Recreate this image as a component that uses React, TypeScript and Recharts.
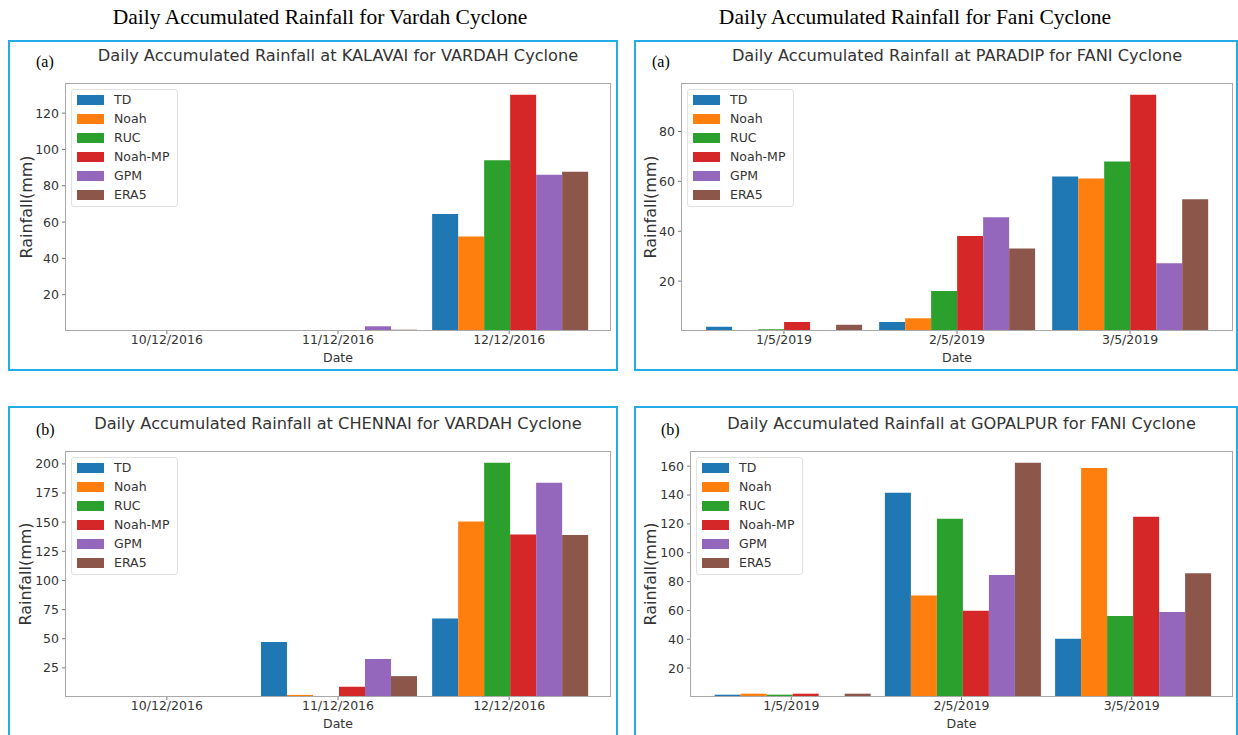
import React from 'react';
import { BarChart, Bar, XAxis, YAxis } from 'recharts';

const seriesNames = ['TD', 'Noah', 'RUC', 'Noah-MP', 'GPM', 'ERA5'];
const seriesColors = ['#1f77b4', '#ff7f0e', '#2ca02c', '#d62728', '#9467bd', '#8c564b'];

const vardahDates = ['10/12/2016', '11/12/2016', '12/12/2016'];
const faniDates = ['1/5/2019', '2/5/2019', '3/5/2019'];

// rows follow seriesNames, columns follow the dates
const kalavaiRain = [
  [0, 0, 64.4],
  [0, 0, 52.1],
  [0, 0, 94.1],
  [0, 0, 130.1],
  [0, 2.6, 86],
  [0, 0.7, 87.7],
];
const paradipRain = [
  [1.7, 3.6, 61.9],
  [0.4, 5.1, 61.1],
  [0.7, 16, 68],
  [3.6, 38.1, 94.7],
  [0.4, 45.6, 27.2],
  [2.5, 33.1, 52.8],
];
const chennaiRain = [
  [0, 47.2, 67.3],
  [0, 1.8, 150.6],
  [0, 0, 201],
  [0, 8.8, 139.5],
  [0, 32.7, 183.8],
  [0, 17.9, 139],
];
const gopalpurRain = [
  [1.6, 141.6, 40.3],
  [2.3, 70.3, 158.8],
  [1.6, 123.5, 56.1],
  [2.3, 59.8, 124.9],
  [0, 84.5, 58.9],
  [2.3, 162.4, 85.7],
];

const kalavaiTicks = [20, 40, 60, 80, 100, 120];
const paradipTicks = [20, 40, 60, 80];
const chennaiTicks = [25, 50, 75, 100, 125, 150, 175, 200];
const gopalpurTicks = [20, 40, 60, 80, 100, 120, 140, 160];

const BORDER = '#22ade6';
const TEXT = '#333';
const MPL_FONT = '"DejaVu Sans", sans-serif';
const SERIF = '"Liberation Serif", "Times New Roman", serif';

const toRows = (dates: string[], values: number[][]) =>
  dates.map((date, i) => {
    const row: Record<string, any> = { date };
    seriesNames.forEach((s, j) => (row[s] = values[j][i]));
    return row;
  });

type Panel = {
  tag: string;
  title: string;
  dates: string[];
  values: number[][];
  ticks: number[];
  box: { left: number; top: number; width: number; height: number };
  plot: { left: number; top: number; right: number; bottom: number };
  labelX: number;
};

const panels: Panel[] = [
  {
    tag: '(a)', title: 'Daily Accumulated Rainfall at KALAVAI for VARDAH Cyclone',
    dates: vardahDates, values: kalavaiRain, ticks: kalavaiTicks,
    box: { left: 8, top: 40, width: 610, height: 331 },
    plot: { left: 65, top: 83, right: 611, bottom: 331 }, labelX: 26,
  },
  {
    tag: '(a)', title: 'Daily Accumulated Rainfall at PARADIP for FANI Cyclone',
    dates: faniDates, values: paradipRain, ticks: paradipTicks,
    box: { left: 634, top: 40, width: 604, height: 331 },
    plot: { left: 681, top: 83, right: 1233, bottom: 331 }, labelX: 650,
  },
  {
    tag: '(b)', title: 'Daily Accumulated Rainfall at CHENNAI for VARDAH Cyclone',
    dates: vardahDates, values: chennaiRain, ticks: chennaiTicks,
    box: { left: 8, top: 406, width: 610, height: 340 },
    plot: { left: 65, top: 451, right: 611, bottom: 697 }, labelX: 25,
  },
  {
    tag: '(b)', title: 'Daily Accumulated Rainfall at GOPALPUR for FANI Cyclone',
    dates: faniDates, values: gopalpurRain, ticks: gopalpurTicks,
    box: { left: 634, top: 406, width: 604, height: 340 },
    plot: { left: 690, top: 451, right: 1233, bottom: 697 }, labelX: 650,
  },
];

const RainPanel = ({ p }: { p: Panel }) => {
  const { box, plot } = p;
  const plotW = plot.right - plot.left;
  const plotH = plot.bottom - plot.top;
  const step = plotW / 3.19;
  const pad = step * 0.095;
  const yMax = Math.max(...p.values.flat()) * 1.05;
  const svgLeft = box.left + 2;
  const svgTop = plot.top - 8;
  const xAxisH = 42;
  const width = plot.right + 6 - svgLeft;
  const height = plot.bottom + xAxisH - svgTop;
  const tickStyle = { fill: TEXT, fontSize: 12.5, fontFamily: MPL_FONT };

  return (
    <>
      <div style={{
        position: 'absolute', left: box.left, top: box.top, width: box.width, height: box.height,
        border: `2px solid ${BORDER}`, boxSizing: 'border-box',
      }} />
      <div style={{
        position: 'absolute', left: plot.left - 29, top: plot.top - 30, fontFamily: SERIF,
        fontSize: 16, color: '#000', lineHeight: '18px',
      }}>{p.tag}</div>
      <div style={{
        position: 'absolute', left: plot.left, width: plotW, top: plot.top - 36, textAlign: 'center',
        fontFamily: MPL_FONT, fontSize: 16.2, color: TEXT, lineHeight: '18px', whiteSpace: 'nowrap',
      }}>{p.title}</div>
      <div style={{ position: 'absolute', left: svgLeft, top: svgTop }}>
        <BarChart
          width={width}
          height={height}
          data={toRows(p.dates, p.values)}
          margin={{ top: 8, right: 6, bottom: 0, left: 0 }}
          barCategoryGap="5%"
          barGap={0}
        >
          <XAxis
            dataKey="date"
            height={xAxisH}
            padding={{ left: pad, right: pad }}
            axisLine={false}
            tickLine={{ stroke: '#777' }}
            tickSize={3}
            tickMargin={1}
            tick={tickStyle}
            interval={0}
            label={{ value: 'Date', position: 'insideBottom', offset: 11, fill: TEXT, fontSize: 12.5, fontFamily: MPL_FONT }}
          />
          <YAxis
            type="number"
            domain={[0, yMax]}
            ticks={p.ticks}
            width={plot.left - svgLeft}
            axisLine={false}
            tickLine={{ stroke: '#777' }}
            tickSize={3}
            tickMargin={3}
            tick={tickStyle}
            label={{
              value: 'Rainfall(mm)', angle: -90, position: 'insideLeft', offset: p.labelX - svgLeft,
              fill: TEXT, fontSize: 16, fontFamily: MPL_FONT, style: { textAnchor: 'middle' },
            }}
          />
          {seriesNames.map((s, j) => (
            <Bar key={s} dataKey={s} fill={seriesColors[j]} isAnimationActive={false} />
          ))}
        </BarChart>
        <div style={{
          position: 'absolute', left: plot.left - svgLeft + 6, top: 14, padding: '0 8px 2px 5px',
          border: '1px solid #e2e2e2', borderRadius: 3, background: 'rgba(255,255,255,0.85)',
          fontFamily: MPL_FONT, fontSize: 12.5, color: TEXT,
        }}>
          {seriesNames.map((s, j) => (
            <div key={s} style={{ display: 'flex', alignItems: 'center', height: 19 }}>
              <div style={{ width: 27, height: 10, background: seriesColors[j], marginRight: 10 }} />
              <span>{s}</span>
            </div>
          ))}
        </div>
        <div style={{
          position: 'absolute', left: plot.left - svgLeft, top: 8, width: plotW, height: plotH,
          border: '1px solid #a8a8a8', boxSizing: 'border-box', pointerEvents: 'none',
        }} />
      </div>
    </>
  );
};

export default function App() {
  return (
    <div style={{ position: 'absolute', left: 0, top: 0, width: 1238, height: 735, background: '#fff', overflow: 'hidden' }}>
      <div style={{
        position: 'absolute', left: 0, width: 640, top: 5, textAlign: 'center',
        fontFamily: SERIF, fontSize: 21.5, color: '#000', lineHeight: '24px',
      }}>Daily Accumulated Rainfall for Vardah Cyclone</div>
      <div style={{
        position: 'absolute', left: 625, width: 580, top: 5, textAlign: 'center',
        fontFamily: SERIF, fontSize: 21.5, color: '#000', lineHeight: '24px',
      }}>Daily Accumulated Rainfall for Fani Cyclone</div>
      {panels.map((p, i) => <RainPanel key={i} p={p} />)}
    </div>
  );
}
